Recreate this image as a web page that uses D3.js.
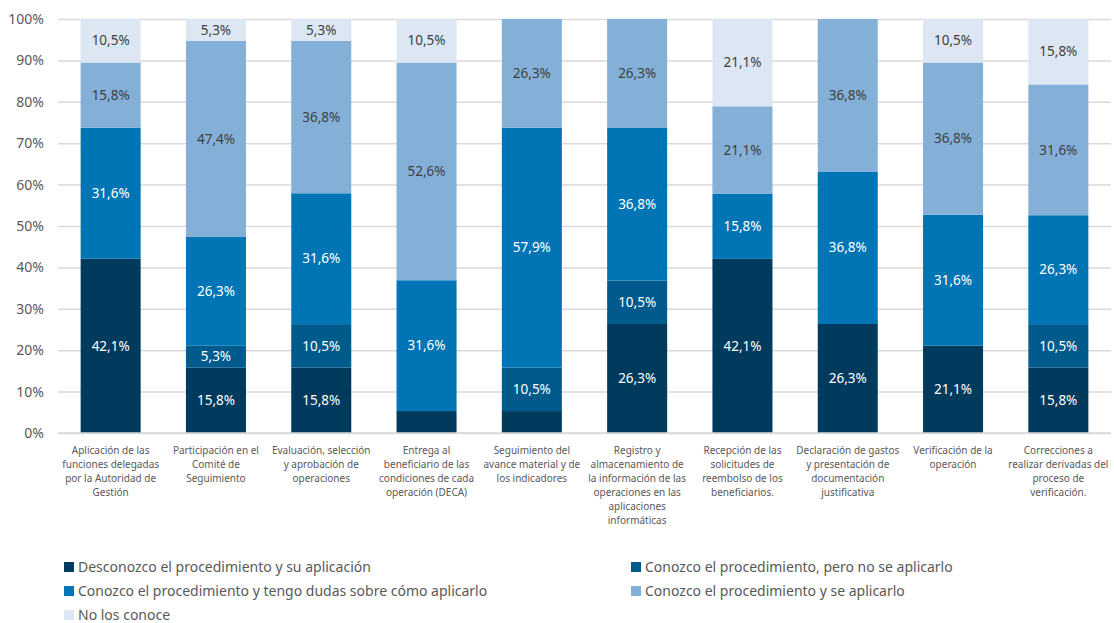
<!DOCTYPE html>
<html>
<head>
<meta charset="utf-8">
<script src="https://cdn.jsdelivr.net/npm/d3@7"></script>
<style>
  body { margin: 0; background: #fff; }
  text { font-family: "Noto Sans", sans-serif; }
</style>
</head>
<body>
<svg id="chart" width="1114" height="623"></svg>
<script>
// categories (wrapped the way the original axis shows them)
const categories = [
    ["Aplicación de las", "funciones delegadas", "por la Autoridad de", "Gestión"],
    ["Participación en el", "Comité de", "Seguimiento"],
    ["Evaluación, selección", "y aprobación de", "operaciones"],
    ["Entrega al", "beneficiario de las", "condiciones de cada", "operación (DECA)"],
    ["Seguimiento del", "avance material y de", "los indicadores"],
    ["Registro y", "almacenamiento de", "la información de las", "operaciones en las", "aplicaciones", "informáticas"],
    ["Recepción de las", "solicitudes de", "reembolso de los", "beneficiarios."],
    ["Declaración de gastos", "y presentación de", "documentación", "justificativa"],
    ["Verificación de la", "operación"],
    ["Correcciones a", "realizar derivadas del", "proceso de", "verificación."]
];

const seriesNames = [
    "Desconozco el procedimiento y su aplicación",
    "Conozco el procedimiento, pero no se aplicarlo",
    "Conozco el procedimiento y tengo dudas sobre cómo aplicarlo",
    "Conozco el procedimiento y se aplicarlo",
    "No los conoce"
];

// values in %
const desconozco    = [42.1, 15.8, 15.8, 5.3, 5.3, 26.3, 42.1, 26.3, 21.1, 15.8];
const noSeAplicarlo = [0, 5.3, 10.5, 0, 10.5, 10.5, 0, 0, 0, 10.5];
const tengoDudas    = [31.6, 26.3, 31.6, 31.6, 57.9, 36.8, 15.8, 36.8, 31.6, 26.3];
const seAplicarlo   = [15.8, 47.4, 36.8, 52.6, 26.3, 26.3, 21.1, 36.8, 36.8, 31.6];
const noLosConoce   = [10.5, 5.3, 5.3, 10.5, 0, 0, 21.1, 0, 10.5, 15.8];

const yTicks = [0, 10, 20, 30, 40, 50, 60, 70, 80, 90, 100];

// segments the original leaves without a label: [category, series]
const unlabeled = [[3, 0], [4, 0]];

const colors = ["#003a5c", "#005a8b", "#0075b5", "#84b0d8", "#dce7f3"];
const labelColors = ["#fff", "#fff", "#fff", "#404040", "#404040"];

const allSeries = [desconozco, noSeAplicarlo, tengoDudas, seAplicarlo, noLosConoce];
const keys = d3.range(allSeries.length);
const rows = categories.map((c, i) => {
    const row = {i: i};
    keys.forEach(k => { row[k] = allSeries[k][i]; });
    return row;
});

const plotLeft = 58, plotRight = 1111, plotTop = 19, plotBottom = 433;
const svg = d3.select("#chart");

const x = d3.scaleBand()
    .domain(d3.range(categories.length))
    .range([plotLeft, plotRight])
    .paddingInner(0.43)
    .paddingOuter(0.215);

const y = d3.scaleLinear()
    .domain([0, 100])
    .range([plotBottom, plotTop]);

const locale = d3.formatLocale({decimal: ",", thousands: ".", grouping: [3], currency: ["", "€"]});
const fmt = locale.format(".1f");

// gridlines + y labels
const yAxis = svg.append("g")
    .attr("transform", `translate(${plotLeft},0)`)
    .call(d3.axisLeft(y).tickValues(yTicks).tickSize(-(plotRight - plotLeft)).tickPadding(14).tickFormat(d => d + "%"));
yAxis.select(".domain").remove();
yAxis.selectAll(".tick line").attr("stroke", "#d9d9d9").attr("stroke-width", 1.5);
yAxis.selectAll(".tick text").attr("fill", "#595959").style("font-size", "14px");

// 100% stack
const stack = d3.stack()
    .keys(keys)
    .offset(d3.stackOffsetExpand);
const layers = stack(rows);

const g = svg.selectAll("g.layer")
    .data(layers)
    .enter().append("g")
    .attr("class", "layer")
    .attr("fill", d => colors[d.key]);

g.selectAll("rect")
    .data(d => d)
    .enter().append("rect")
    .attr("x", d => x(d.data.i))
    .attr("width", x.bandwidth())
    .attr("y", d => y(d[1] * 100))
    .attr("height", d => y(d[0] * 100) - y(d[1] * 100));

// segment labels
layers.forEach(layer => {
    const k = layer.key;
    svg.append("g")
        .selectAll("text")
        .data(layer.filter(d => d.data[k] > 0 && !unlabeled.some(u => u[0] === d.data.i && u[1] === k)))
        .enter().append("text")
        .attr("x", d => x(d.data.i) + x.bandwidth() / 2)
        .attr("y", d => y((d[0] + d[1]) / 2 * 100))
        .attr("dy", "0.35em")
        .attr("text-anchor", "middle")
        .attr("fill", labelColors[k])
        .style("font-size", "13.5px")
        .text(d => fmt(d.data[k]) + "%");
});

// baseline
svg.append("line")
    .attr("x1", plotLeft).attr("x2", plotRight)
    .attr("y1", plotBottom).attr("y2", plotBottom)
    .attr("stroke", "#d9d9d9").attr("stroke-width", 1.5);

// category labels
const catText = svg.append("g")
    .selectAll("text")
    .data(categories)
    .enter().append("text")
    .attr("text-anchor", "middle")
    .attr("fill", "#595959")
    .style("font-size", "10px");
catText.selectAll("tspan")
    .data((d, i) => d.map(line => ({line: line, i: i})))
    .enter().append("tspan")
    .attr("x", d => x(d.i) + x.bandwidth() / 2)
    .attr("y", (d, j) => 454 + j * 14)
    .text(d => d.line);

// legend
const legendPos = [[64, 567], [631, 567], [64, 591], [631, 591], [64, 615]];
const legend = svg.append("g")
    .selectAll("g")
    .data(seriesNames)
    .enter().append("g")
    .attr("transform", (d, i) => `translate(${legendPos[i][0]},${legendPos[i][1]})`);
legend.append("rect")
    .attr("x", 0).attr("y", -5)
    .attr("width", 10).attr("height", 10)
    .attr("fill", (d, i) => colors[i]);
legend.append("text")
    .attr("x", 14)
    .attr("dy", "0.35em")
    .attr("fill", "#595959")
    .style("font-size", "14px")
    .text(d => d);
</script>
</body>
</html>
